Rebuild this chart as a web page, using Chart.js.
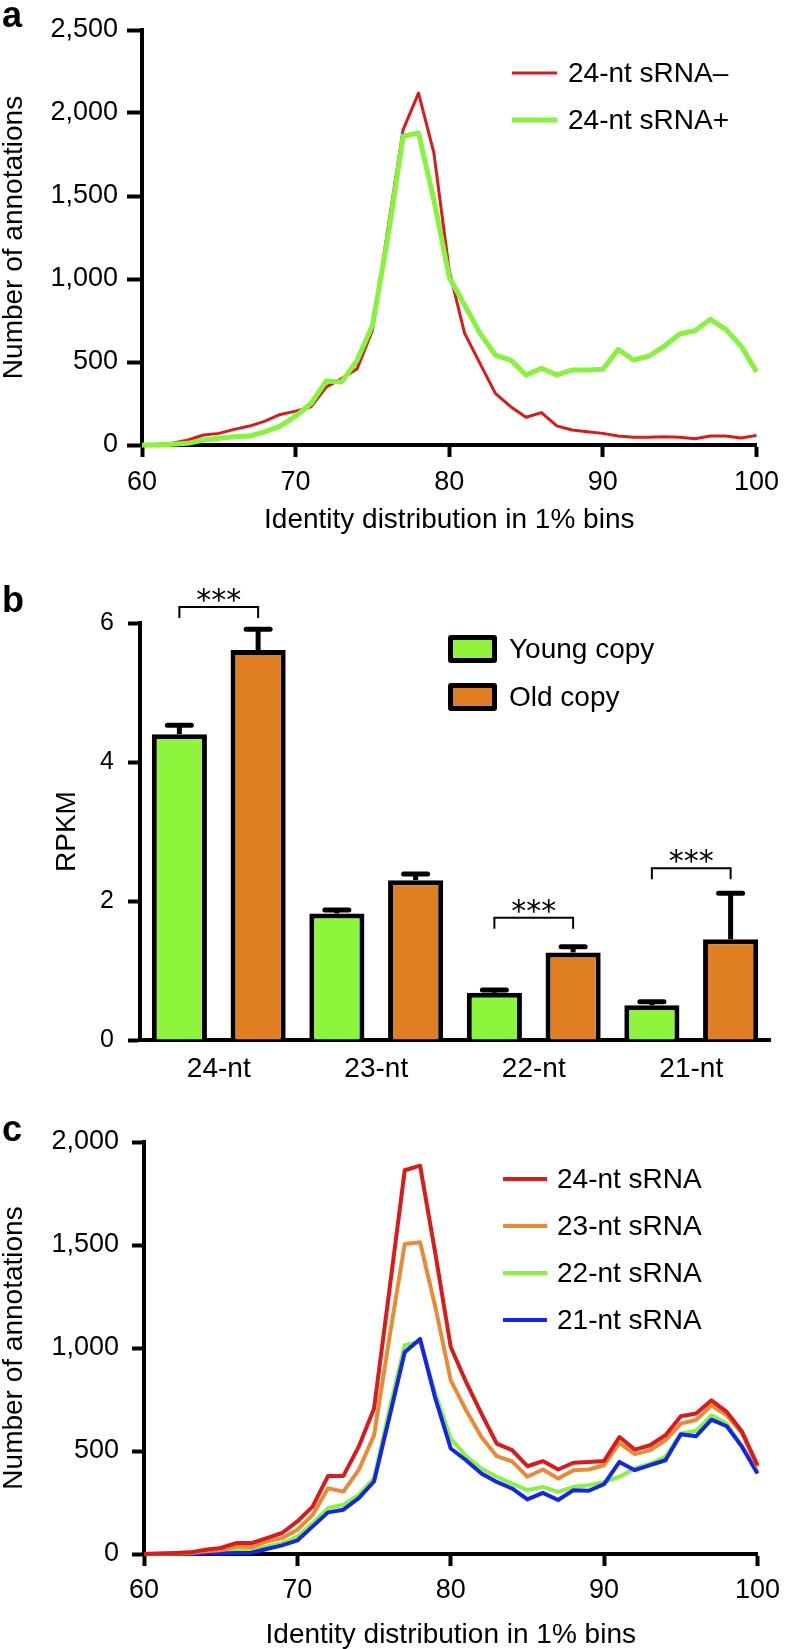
<!DOCTYPE html>
<html>
<head>
<meta charset="utf-8">
<script src="https://cdn.jsdelivr.net/npm/chart.js@4.4.1/dist/chart.umd.min.js"></script>
<style>
  html, body { margin: 0; padding: 0; background: #fff; }
  #page { position: relative; width: 788px; height: 1649px; overflow: hidden; }
  canvas { position: absolute; left: 0; }
</style>
</head>
<body>
<div id="page">
  <canvas id="chartA" width="788" height="545" style="top:0px"></canvas>
  <canvas id="chartB" width="788" height="555" style="top:545px"></canvas>
  <canvas id="chartC" width="788" height="549" style="top:1100px"></canvas>
</div>
<script>
// identity bins (%), shared by panels a and c
const bins = [60, 61, 62, 63, 64, 65, 66, 67, 68, 69, 70, 71, 72, 73, 74, 75, 76, 77, 78, 79, 80,
              81, 82, 83, 84, 85, 86, 87, 88, 89, 90, 91, 92, 93, 94, 95, 96, 97, 98, 99, 100];

// panel a
const sRNAminus = [0, 4, 10, 30, 60, 70, 94, 114, 144, 184, 204, 230, 350, 400, 460, 690, 1300, 1900, 2120, 1760, 1050,
                   673, 492, 311, 231, 167, 195, 115, 90, 80, 70, 54, 46, 46, 50, 46, 38, 54, 54, 42, 58];
const sRNAplus = [0, 0, 4, 10, 30, 40, 50, 54, 80, 114, 174, 250, 386, 380, 510, 720, 1250, 1860, 1880, 1476, 1010,
                  843, 673, 542, 512, 422, 462, 422, 452, 452, 456, 576, 512, 536, 596, 669, 689, 757, 697, 596, 442];

// panel b
const sizeClasses = ['24-nt', '23-nt', '22-nt', '21-nt'];
const youngRPKM = [4.40, 1.82, 0.68, 0.50];
const youngErr = [0.13, 0.05, 0.04, 0.05];
const oldRPKM = [5.61, 2.30, 1.26, 1.45];
const oldErr = [0.30, 0.09, 0.08, 0.66];
const sigClass = [0, 2, 3];          // which size classes carry a *** bracket
const sigLevel = [6.23, 1.76, 2.47]; // bracket height in RPKM units

// panel c
const nt24 = [0, 2, 5, 8, 21, 29, 53, 53, 77, 102, 158, 231, 379, 379, 521, 706, 1280, 1863, 1885, 1457, 1005,
              835, 682, 536, 504, 426, 451, 410, 443, 447, 452, 568, 507, 528, 577, 669, 682, 746, 690, 593, 431];
const nt23 = [0, 1, 3, 5, 13, 18, 37, 34, 61, 77, 118, 190, 319, 303, 408, 577, 1050, 1505, 1513, 1198, 843,
              698, 568, 475, 450, 375, 410, 367, 407, 410, 431, 539, 485, 504, 552, 633, 652, 722, 673, 585, 423];
const nt22 = [0, 0, 1, 2, 5, 8, 18, 18, 37, 53, 85, 150, 223, 239, 287, 368, 700, 1013, 1030, 778, 560,
              475, 415, 375, 342, 310, 326, 302, 326, 334, 350, 375, 415, 439, 472, 585, 598, 673, 633, 520, 399];
const nt21 = [0, 0, 0, 1, 3, 3, 5, 6, 24, 42, 66, 134, 202, 215, 271, 352, 665, 979, 1044, 754, 512,
              455, 391, 350, 318, 265, 297, 262, 310, 307, 339, 447, 407, 431, 455, 581, 572, 652, 620, 520, 391];

const RED = '#dc1a1a';
const GREEN = '#86f33c';
const ORANGE = '#ec8a34';
const BLUE = '#1424ee';
const BAR_GREEN = '#8ef53c';
const BAR_ORANGE = '#e07f22';
const FONT = '"Liberation Sans", Arial, Helvetica, sans-serif';

Chart.defaults.font.family = FONT;
Chart.defaults.color = '#000';
Chart.defaults.animation = false;
Chart.defaults.responsive = false;
Chart.defaults.plugins.legend.display = false;
Chart.defaults.plugins.tooltip.enabled = false;

const pairs = (xs, ys) => xs.map((x, i) => ({x: x, y: ys[i]}));
const fmt = v => Number(v).toLocaleString('en-US');

// panel letters, hand drawn legends, error bars and brackets
const overlay = {
    id: 'overlay',
    afterDatasetsDraw(chart, args, o) {
        const ctx = chart.ctx;
        const y = chart.scales.y;
        ctx.save();
        ctx.strokeStyle = '#000';
        ctx.fillStyle = '#000';
        if (o.errorBars) {
            chart.data.datasets.forEach((ds, i) => {
                chart.getDatasetMeta(i).data.forEach((bar, j) => {
                    const base = y.getPixelForValue(ds.data[j]);
                    const top = y.getPixelForValue(ds.data[j] + ds.errors[j]);
                    ctx.lineWidth = 5;
                    ctx.lineCap = 'butt';
                    ctx.beginPath();
                    ctx.moveTo(bar.x, base);
                    ctx.lineTo(bar.x, top);
                    ctx.stroke();
                    ctx.lineCap = 'round';
                    ctx.beginPath();
                    ctx.moveTo(bar.x - 12, top);
                    ctx.lineTo(bar.x + 12, top);
                    ctx.stroke();
                });
            });
        }
        if (o.brackets) {
            sigClass.forEach((c, k) => {
                const x0 = chart.getDatasetMeta(0).data[c].x;
                const x1 = chart.getDatasetMeta(1).data[c].x;
                const yy = y.getPixelForValue(sigLevel[k]);
                ctx.lineWidth = 2;
                ctx.lineCap = 'butt';
                ctx.beginPath();
                ctx.moveTo(x0, yy + 11);
                ctx.lineTo(x0, yy);
                ctx.lineTo(x1, yy);
                ctx.lineTo(x1, yy + 11);
                ctx.stroke();
                ctx.font = '30px "DejaVu Sans", sans-serif';
                ctx.textAlign = 'center';
                ctx.textBaseline = 'alphabetic';
                ctx.fillText('***', (x0 + x1) / 2, yy + 3);
            });
        }
        ctx.restore();
    },
    afterDraw(chart, args, o) {
        const ctx = chart.ctx;
        ctx.save();
        ctx.fillStyle = '#000';
        ctx.font = 'bold 36px ' + FONT;
        ctx.textBaseline = 'alphabetic';
        ctx.fillText(o.letter, 2, o.letterY);

        ctx.font = (o.legendSize || 27) + 'px ' + FONT;
        ctx.textBaseline = 'middle';
        ctx.textAlign = 'left';
        if (o.lineLegend) {
            const L = o.lineLegend;
            chart.data.datasets.forEach((ds, i) => {
                const yy = L.y + i * L.gap;
                ctx.strokeStyle = ds.borderColor;
                ctx.lineWidth = ds.borderWidth;
                ctx.lineCap = 'butt';
                ctx.beginPath();
                ctx.moveTo(L.x, yy);
                ctx.lineTo(L.x + L.len, yy);
                ctx.stroke();
                ctx.fillStyle = '#000';
                ctx.fillText(ds.label, L.textX, yy + 1);
            });
        }
        if (o.boxLegend) {
            const B = o.boxLegend;
            chart.data.datasets.forEach((ds, i) => {
                const yy = B.y + i * B.gap;
                ctx.fillStyle = '#000';
                ctx.beginPath();
                ctx.roundRect(B.x, yy, B.w, B.h, 3);
                ctx.fill();
                ctx.fillStyle = ds.backgroundColor;
                ctx.fillRect(B.x + 5, yy + 5, B.w - 10, B.h - 10);
                ctx.fillStyle = '#000';
                ctx.fillText(ds.label, B.textX, yy + B.h / 2 + 1);
            });
        }
        ctx.restore();
    }
};

const axisGrid = len => ({drawOnChartArea: false, tickLength: len, tickWidth: 4, tickColor: '#000'});
const axisBorder = {display: true, width: 4, color: '#000'};

// ---- panel a
new Chart(document.getElementById('chartA'), {
    type: 'line',
    data: {
        datasets: [
            {label: '24-nt sRNA\u2013', data: pairs(bins, sRNAminus), borderColor: RED, borderWidth: 3, order: 1},
            {label: '24-nt sRNA+', data: pairs(bins, sRNAplus), borderColor: GREEN, borderWidth: 5, order: 0}
        ]
    },
    options: {
        layout: {padding: {top: 30, right: 26, left: 0, bottom: 0}},
        elements: {point: {radius: 0}, line: {tension: 0, fill: false, borderJoinStyle: 'round'}},
        datasets: {line: {clip: false}},
        scales: {
            x: {
                type: 'linear', min: 60, max: 100,
                ticks: {stepSize: 10, font: {size: 27}, padding: 9, maxRotation: 0},
                grid: axisGrid(12), border: axisBorder,
                title: {display: true, text: 'Identity distribution in 1% bins', font: {size: 28, lineHeight: 1}, padding: {top: 0, bottom: 11}},
                afterFit: s => { s.height = 100; }
            },
            y: {
                min: 0, max: 2500,
                ticks: {stepSize: 500, callback: fmt, font: {size: 27}, padding: 9},
                grid: axisGrid(15), border: axisBorder,
                title: {display: true, text: 'Number of annotations', font: {size: 28, lineHeight: 1}, padding: {top: 0, bottom: 0}},
                afterFit: s => { s.width = 142; }
            }
        },
        plugins: {
            overlay: {letter: 'a', letterY: 27, legendSize: 28,
                      lineLegend: {x: 512, len: 45, textX: 568, y: 73, gap: 47}}
        }
    },
    plugins: [overlay]
});

// ---- panel b
new Chart(document.getElementById('chartB'), {
    type: 'bar',
    data: {
        labels: sizeClasses,
        datasets: [
            {label: 'Young copy', data: youngRPKM, errors: youngErr, backgroundColor: BAR_GREEN,
             borderColor: '#000', borderWidth: 5, borderSkipped: 'start'},
            {label: 'Old copy', data: oldRPKM, errors: oldErr, backgroundColor: BAR_ORANGE,
             borderColor: '#000', borderWidth: 5, borderSkipped: 'start'}
        ]
    },
    options: {
        layout: {padding: {top: 78, right: 18, left: 0, bottom: 0}},
        datasets: {bar: {categoryPercentage: 1.0, barPercentage: 0.70}},
        scales: {
            x: {
                ticks: {font: {size: 28}, padding: 12},
                grid: {display: true, drawOnChartArea: false, drawTicks: false},
                border: axisBorder,
                afterFit: s => { s.height = 60; }
            },
            y: {
                min: 0, max: 6,
                ticks: {stepSize: 2, font: {size: 25}, padding: 14},
                grid: axisGrid(12), border: axisBorder,
                title: {display: true, text: 'RPKM', font: {size: 28, lineHeight: 1}, padding: {top: 53, bottom: 0}},
                afterFit: s => { s.width = 140; }
            }
        },
        plugins: {
            overlay: {letter: 'b', letterY: 67, legendSize: 28, errorBars: true, brackets: true,
                      boxLegend: {x: 448, w: 49, h: 28, y: 90, gap: 48, textX: 509}}
        }
    },
    plugins: [overlay]
});

// ---- panel c
new Chart(document.getElementById('chartC'), {
    type: 'line',
    data: {
        datasets: [
            {label: '24-nt sRNA', data: pairs(bins, nt24), borderColor: RED, borderWidth: 4, order: 0},
            {label: '23-nt sRNA', data: pairs(bins, nt23), borderColor: ORANGE, borderWidth: 4, order: 1},
            {label: '22-nt sRNA', data: pairs(bins, nt22), borderColor: GREEN, borderWidth: 4, order: 3},
            {label: '21-nt sRNA', data: pairs(bins, nt21), borderColor: BLUE, borderWidth: 4, order: 2}
        ]
    },
    options: {
        layout: {padding: {top: 42, right: 26, left: 0, bottom: 0}},
        elements: {point: {radius: 0}, line: {tension: 0, fill: false, borderJoinStyle: 'round'}},
        datasets: {line: {clip: false}},
        scales: {
            x: {
                type: 'linear', min: 60, max: 100,
                ticks: {stepSize: 10, font: {size: 27}, padding: 8, maxRotation: 0},
                grid: axisGrid(12), border: axisBorder,
                title: {display: true, text: 'Identity distribution in 1% bins', font: {size: 28, lineHeight: 1}, padding: {top: 0, bottom: 0}},
                afterFit: s => { s.height = 95; }
            },
            y: {
                min: 0, max: 2000,
                ticks: {stepSize: 500, callback: fmt, font: {size: 27}, padding: 13},
                grid: axisGrid(12), border: axisBorder,
                title: {display: true, text: 'Number of annotations', font: {size: 28, lineHeight: 1}, padding: {top: 0, bottom: 0}},
                afterFit: s => { s.width = 144; }
            }
        },
        plugins: {
            overlay: {letter: 'c', letterY: 41, legendSize: 28,
                      lineLegend: {x: 503, len: 44, textX: 557, y: 79, gap: 47}}
        }
    },
    plugins: [overlay]
});
</script>
</body>
</html>
